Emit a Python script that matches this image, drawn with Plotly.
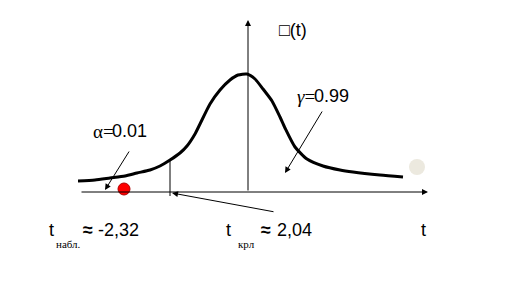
import plotly.graph_objects as go

# ---- data (x relative to the vertical axis, y = height above the t-axis) ----
curve_x = [-170, -153, -138, -123, -111, -98, -88, -78, -68, -61, -53, -48, -38, -28, -18, -10, -1,
           7, 15, 24, 32, 37, 47, 59, 75, 92, 105, 132, 155]
curve_y = [11, 12, 14, 16, 19, 22, 26, 32, 39, 46, 58, 68, 88, 102, 112, 117, 118,
           113, 103, 91, 75, 64, 45, 33, 26, 22, 20, 17, 15]

crit_line_x = [-78, -78]
crit_line_y = [-4, 32]

obs_point_x = [-124]
obs_point_y = [3]

end_point_x = [169]
end_point_y = [25]

alpha_value = "0.01"
gamma_value = "0.99"
t_obs_label = "-2,32"
t_crit_label = "2,04"
t_obs_sub = "набл."
t_crit_sub = "крл"

SANS = "Liberation Sans"
SERIF = "Liberation Serif"

fig = go.Figure()

fig.add_trace(go.Scatter(x=curve_x, y=curve_y, mode="lines",
                         line=dict(color="black", width=3, shape="spline", smoothing=0.6),
                         hoverinfo="skip", showlegend=False))
fig.add_trace(go.Scatter(x=crit_line_x, y=crit_line_y, mode="lines",
                         line=dict(color="black", width=1), hoverinfo="skip", showlegend=False))
fig.add_trace(go.Scatter(x=obs_point_x, y=obs_point_y, mode="markers",
                         marker=dict(color="#ff0000", size=12, line=dict(color="#b00000", width=1)),
                         hoverinfo="skip", showlegend=False))
fig.add_trace(go.Scatter(x=end_point_x, y=end_point_y, mode="markers",
                         marker=dict(color="#ece9df", size=16, line=dict(width=0)),
                         hoverinfo="skip", showlegend=False))

ann = []
def arrow(x, y, ax, ay, size=1.0):
    ann.append(dict(x=x, y=y, ax=ax, ay=ay, xref="x", yref="y", axref="x", ayref="y",
                    text="", showarrow=True, arrowhead=2, arrowsize=size, arrowwidth=1,
                    arrowcolor="black", standoff=0, startstandoff=0))

# coordinate axes
arrow(180, 0, -168, 0, 1.2)
arrow(0, 172, 0, 0, 1.2)
# pointer arrows
arrow(-143, 2, -118, 42, 1.2)
arrow(37, 19, 75, 82, 1.2)
arrow(-76, -1, 27, -20, 1.2)

def text(x, y, s, size=18, family=SANS):
    ann.append(dict(x=x, y=y, xref="x", yref="y", text=s, showarrow=False,
                    xanchor="left", yanchor="middle", font=dict(family=family, size=size, color="black")))

text(-157, 61, "α=", family=SERIF, size=19)
text(-138, 61, alpha_value)
text(47, 96, "<i>γ</i>=", family=SERIF, size=19)
text(64, 96, gamma_value)
text(-201, -38, "t")
text(-194, -52, t_obs_sub, size=11, family=SERIF)
text(-167, -38, "<b>≈</b>")
text(-152, -38, t_obs_label)
text(-24, -38, "t")
text(-12, -52, t_crit_sub, size=11, family=SERIF)
text(11, -38, "<b>≈</b>")
text(27, -38, t_crit_label)
text(171, -38, "t")
text(29, 162, "□(t)")

fig.update_layout(
    width=518, height=283, margin=dict(l=0, r=0, t=0, b=0),
    paper_bgcolor="white", plot_bgcolor="white",
    xaxis=dict(range=[-248, 270], visible=False, fixedrange=True),
    yaxis=dict(range=[-91, 192], visible=False, fixedrange=True),
    annotations=ann, showlegend=False,
)

fig.write_html("out.html")
